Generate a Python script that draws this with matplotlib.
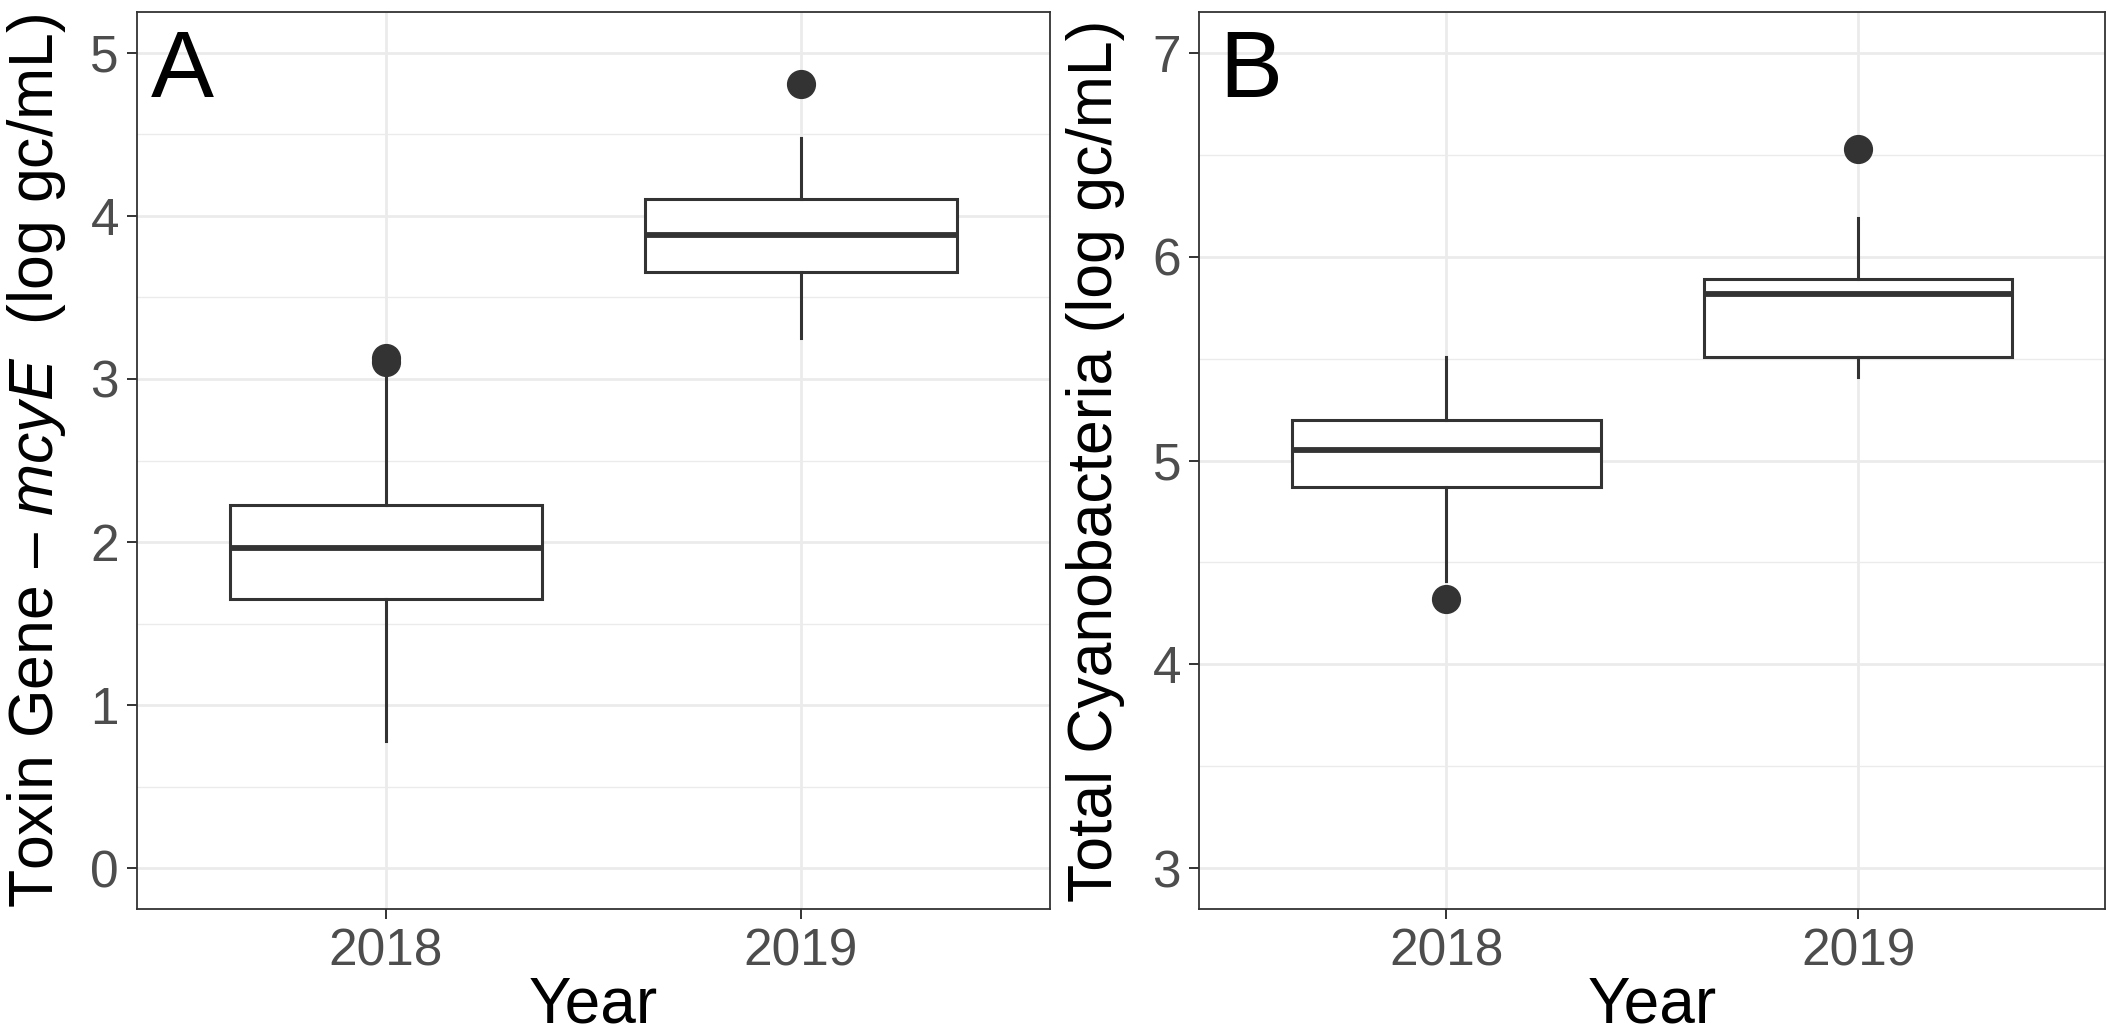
import matplotlib
matplotlib.use('Agg')
import matplotlib.pyplot as plt
from matplotlib.ticker import MultipleLocator

plt.rcParams['font.family'] = ['Liberation Sans', 'DejaVu Sans']
plt.rcParams['mathtext.fontset'] = 'custom'
plt.rcParams['mathtext.rm'] = 'Liberation Sans'
plt.rcParams['mathtext.it'] = 'Liberation Sans:italic'

# data
years = ['2018', '2019']

toxin_whislo = [0.78, 3.25]
toxin_q1 = [1.65, 3.655]
toxin_med = [1.965, 3.885]
toxin_q3 = [2.225, 4.105]
toxin_whishi = [3.03, 4.475]
toxin_fliers = [[3.105, 3.13], [4.81]]

cyano_whislo = [4.41, 5.41]
cyano_q1 = [4.87, 5.51]
cyano_med = [5.05, 5.815]
cyano_q3 = [5.20, 5.89]
cyano_whishi = [5.51, 6.19]
cyano_fliers = [[4.32], [6.53]]

DARK = '#333333'
GRID = '#EBEBEB'


def make_stats(lo, q1, med, q3, hi, fl):
    out = []
    for i in range(len(lo)):
        out.append(dict(whislo=lo[i], q1=q1[i], med=med[i], q3=q3[i],
                        whishi=hi[i], fliers=fl[i]))
    return out


def draw_panel(ax, stats, ylims, yticks, ylabel, letter, label_x, letter_x):
    ax.bxp(stats, positions=[1, 2], widths=0.75, showcaps=False,
           patch_artist=True,
           boxprops=dict(facecolor='white', edgecolor=DARK, linewidth=2.2),
           medianprops=dict(color=DARK, linewidth=4.2, solid_capstyle='butt'),
           whiskerprops=dict(color=DARK, linewidth=2.2),
           flierprops=dict(marker='o', markersize=20, markerfacecolor=DARK,
                           markeredgecolor=DARK, linestyle='none'))
    ax.set_xlim(0.4, 2.6)
    ax.set_ylim(*ylims)
    ax.set_xticks([1, 2])
    ax.set_xticklabels(years)
    ax.set_yticks(yticks)
    ax.yaxis.set_minor_locator(MultipleLocator(0.5))
    ax.grid(which='major', color=GRID, linewidth=2.0)
    ax.grid(which='minor', axis='y', color=GRID, linewidth=1.0)
    ax.set_axisbelow(True)
    for s in ax.spines.values():
        s.set_color(DARK)
        s.set_linewidth(1.3)
    ax.tick_params(which='major', length=7, width=1.4, color=DARK,
                   labelsize=37, labelcolor='#4D4D4D', pad=6)
    ax.tick_params(which='minor', length=0)
    ax.set_xlabel('Year', fontsize=46)
    ax.xaxis.set_label_coords(0.5, -0.074)
    ax.set_ylabel(ylabel, fontsize=45)
    ax.yaxis.set_label_coords(label_x, 0.5)
    ax.text(letter_x, 0.905, letter, transform=ax.transAxes, fontsize=68,
            ha='left', va='baseline')


fig = plt.figure(figsize=(21.07, 10.35), dpi=100)
ax1 = fig.add_axes([0.0650, 0.1217, 0.4333, 0.8667])
ax2 = fig.add_axes([0.5691, 0.1217, 0.4300, 0.8667])

draw_panel(ax1, make_stats(toxin_whislo, toxin_q1, toxin_med, toxin_q3,
                           toxin_whishi, toxin_fliers),
           (-0.25, 5.25), [0, 1, 2, 3, 4, 5],
           r'Toxin Gene – $\mathit{mcyE}$  (log gc/mL)', 'A', -0.0756, 0.015)
draw_panel(ax2, make_stats(cyano_whislo, cyano_q1, cyano_med, cyano_q3,
                           cyano_whishi, cyano_fliers),
           (2.8, 7.2), [3, 4, 5, 6, 7],
           'Total Cyanobacteria (log gc/mL)', 'B', -0.0817, 0.022)

fig.savefig('out.png', dpi=100)
